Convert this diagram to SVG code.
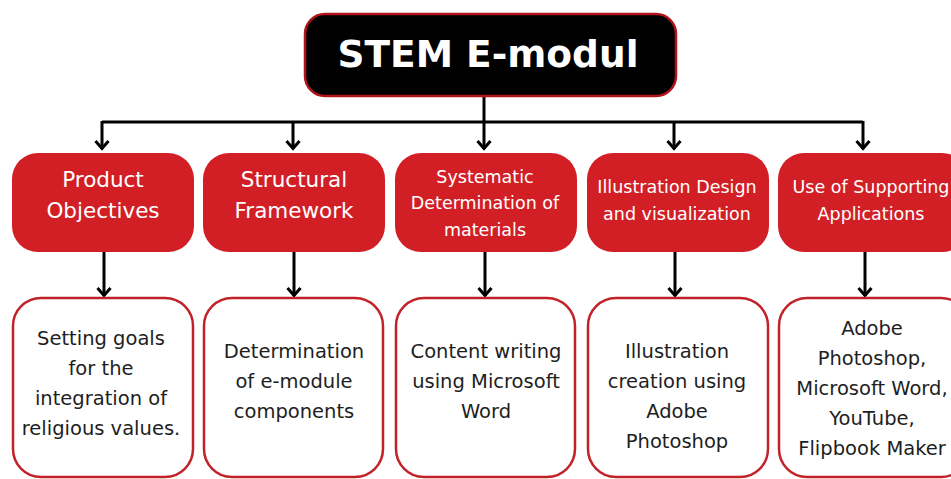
<svg xmlns="http://www.w3.org/2000/svg" width="951" height="479" viewBox="0 0 951 479">
  <style>
    .title { font-family: "DejaVu Sans", "Liberation Sans", sans-serif; font-weight: bold; font-size: 37.5px; fill: #ffffff; text-anchor: middle; }
    .cat { fill: #d21f26; }
    .catText { font-family: "DejaVu Sans", "Liberation Sans", sans-serif; fill: #ffffff; text-anchor: middle; }
    .big { font-size: 21.5px; }
    .small { font-size: 17.5px; }
    .detail { fill: #ffffff; stroke: #c1222a; stroke-width: 2.5; }
    .detailText { font-family: "DejaVu Sans", "Liberation Sans", sans-serif; font-size: 19.5px; fill: #1e1e1e; text-anchor: middle; }
    .wire { fill: none; stroke: #000000; stroke-width: 3; }
  </style>
  <defs>
    <!-- open chevron head, drawn pointing along +x so orient="auto" follows the line -->
    <marker id="head" viewBox="0 0 14 16" refX="11" refY="8" markerWidth="14" markerHeight="16" markerUnits="userSpaceOnUse" orient="auto" overflow="visible">
      <path d="M3,1.5 L10.5,8 L3,14.5" fill="none" stroke="#000000" stroke-width="3" stroke-linejoin="miter"/>
    </marker>
  </defs>

  <rect width="951" height="479" fill="#ffffff"/>

  <!-- connectors -->
  <g id="connectors">
    <path class="wire" d="M484,97 V122"/>
    <path class="wire" d="M102,122 H863"/>
    <path class="wire" marker-end="url(#head)" d="M102,121 V149"/>
    <path class="wire" marker-end="url(#head)" d="M293,122 V149"/>
    <path class="wire" marker-end="url(#head)" d="M484,122 V149"/>
    <path class="wire" marker-end="url(#head)" d="M674,122 V149"/>
    <path class="wire" marker-end="url(#head)" d="M863,121 V149"/>
    <path class="wire" marker-end="url(#head)" d="M104,252 V296"/>
    <path class="wire" marker-end="url(#head)" d="M294,252 V296"/>
    <path class="wire" marker-end="url(#head)" d="M485,252 V296"/>
    <path class="wire" marker-end="url(#head)" d="M675,252 V296"/>
    <path class="wire" marker-end="url(#head)" d="M865,252 V296"/>
  </g>

  <!-- root -->
  <g id="root">
    <rect x="305" y="14" width="371" height="82" rx="20" fill="#000000" stroke="#b3141c" stroke-width="2.5"/>
    <text class="title" x="488" y="67">STEM E-modul</text>
  </g>

  <!-- categories -->
  <g id="cat-objectives">
    <rect class="cat" x="12" y="153" width="182" height="99" rx="26"/>
    <text class="catText big" x="103" y="187">Product</text>
    <text class="catText big" x="103" y="218">Objectives</text>
  </g>
  <g id="cat-framework">
    <rect class="cat" x="203" y="153" width="182" height="99" rx="26"/>
    <text class="catText big" x="294" y="187">Structural</text>
    <text class="catText big" x="294" y="218">Framework</text>
  </g>
  <g id="cat-materials">
    <rect class="cat" x="395" y="153" width="182" height="99" rx="26"/>
    <text class="catText small" x="485" y="183">Systematic</text>
    <text class="catText small" x="485" y="209">Determination of</text>
    <text class="catText small" x="485" y="236">materials</text>
  </g>
  <g id="cat-illustration">
    <rect class="cat" x="587" y="153" width="182" height="99" rx="26"/>
    <text class="catText small" x="677" y="193">Illustration Design</text>
    <text class="catText small" x="677" y="220">and visualization</text>
  </g>
  <g id="cat-applications">
    <rect class="cat" x="778" y="153" width="190" height="99" rx="26"/>
    <text class="catText small" x="871" y="193">Use of Supporting</text>
    <text class="catText small" x="871" y="220">Applications</text>
  </g>

  <!-- details -->
  <g id="detail-objectives">
    <rect class="detail" x="13" y="298" width="180" height="179" rx="28"/>
    <text class="detailText" x="101" y="345">Setting goals</text>
    <text class="detailText" x="101" y="375">for the</text>
    <text class="detailText" x="101" y="405">integration of</text>
    <text class="detailText" x="101" y="435">religious values.</text>
  </g>
  <g id="detail-framework">
    <rect class="detail" x="204" y="298" width="179" height="179" rx="28"/>
    <text class="detailText" x="294" y="358">Determination</text>
    <text class="detailText" x="294" y="388">of e-module</text>
    <text class="detailText" x="294" y="418">components</text>
  </g>
  <g id="detail-materials">
    <rect class="detail" x="396" y="298" width="179" height="179" rx="28"/>
    <text class="detailText" x="486" y="358">Content writing</text>
    <text class="detailText" x="486" y="388">using Microsoft</text>
    <text class="detailText" x="486" y="418">Word</text>
  </g>
  <g id="detail-illustration">
    <rect class="detail" x="588" y="298" width="180" height="179" rx="28"/>
    <text class="detailText" x="677" y="358">Illustration</text>
    <text class="detailText" x="677" y="388">creation using</text>
    <text class="detailText" x="677" y="418">Adobe</text>
    <text class="detailText" x="677" y="448">Photoshop</text>
  </g>
  <g id="detail-applications">
    <rect class="detail" x="779" y="298" width="190" height="179" rx="28"/>
    <text class="detailText" x="872" y="335">Adobe</text>
    <text class="detailText" x="872" y="365">Photoshop,</text>
    <text class="detailText" x="872" y="395">Microsoft Word,</text>
    <text class="detailText" x="872" y="425">YouTube,</text>
    <text class="detailText" x="872" y="455">Flipbook Maker</text>
  </g>
</svg>
